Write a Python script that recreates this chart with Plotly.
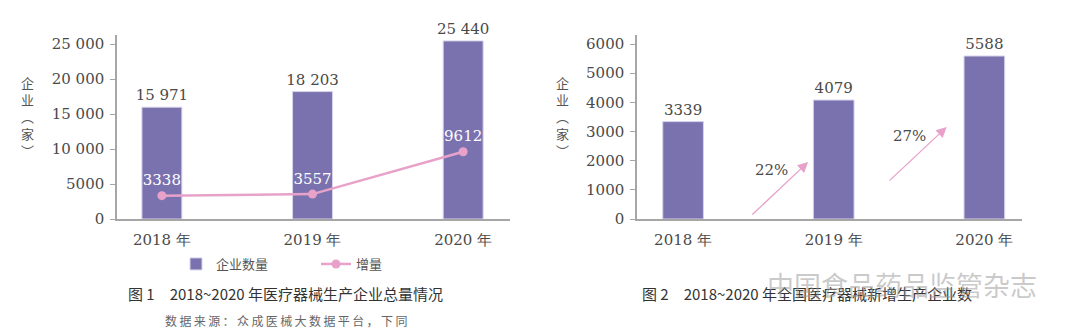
import plotly.graph_objects as go

# ---------------- data ----------------
years = ["2018 年", "2019 年", "2020 年"]
total_companies = [15971, 18203, 25440]
total_labels = ["15 971", "18 203", "25 440"]
increase = [3338, 3557, 9612]
new_companies = [3339, 4079, 5588]
growth_labels = ["22%", "27%"]

left_tickvals = [0, 5000, 10000, 15000, 20000, 25000]
left_ticktext = ["0", "5000", "10 000", "15 000", "20 000", "25 000"]
right_tickvals = [0, 1000, 2000, 3000, 4000, 5000, 6000]
right_ticktext = ["0", "1000", "2000", "3000", "4000", "5000", "6000"]

# ---------------- styles ----------------
BAR = "#7A72AF"
BAR_EDGE = "#D6D2EA"
PINK = "#E8A2CA"
AXIS = "#A6A6A6"
TXT = "#4A4A4A"
SERIF = "DejaVu Serif, Liberation Serif, serif"
CJK = "Noto Sans CJK SC, Noto Sans, sans-serif"

W, H = 1080, 336
def px_x(x):
    return x / W
def px_y(y):
    return 1 - y / H

fig = go.Figure()

fig.add_trace(go.Bar(
    x=years, y=total_companies, text=total_labels, textposition="outside",
    textfont=dict(family=SERIF, size=15, color=TXT), cliponaxis=False, constraintext="none",
    marker=dict(color=BAR, line=dict(color=BAR_EDGE, width=1)), width=0.265,
    name="企业数量", xaxis="x", yaxis="y",
))
fig.add_trace(go.Scatter(
    x=years, y=increase, mode="lines+markers+text", text=[str(v) for v in increase],
    textposition="top center", textfont=dict(family=SERIF, size=15, color="white"),
    line=dict(color=PINK, width=2.5), marker=dict(color=PINK, size=9),
    name="增量", xaxis="x", yaxis="y", cliponaxis=False,
))
fig.add_trace(go.Bar(
    x=years, y=new_companies, text=[str(v) for v in new_companies], textposition="outside",
    textfont=dict(family=SERIF, size=15, color=TXT), cliponaxis=False, constraintext="none",
    marker=dict(color=BAR, line=dict(color=BAR_EDGE, width=1)), width=0.27,
    showlegend=False, xaxis="x2", yaxis="y2",
))

ydom = [px_y(219), px_y(35)]
common_x = dict(showgrid=False, showline=True, linecolor=AXIS, linewidth=1.5,
                ticks="", ticklabelstandoff=6, automargin=False,
                tickfont=dict(family=SERIF, size=15, color=TXT), zeroline=False)
common_y = dict(showgrid=False, showline=True, linecolor=AXIS, linewidth=1.5,
                ticks="outside", ticklen=5, tickcolor=AXIS, tickwidth=1.2,
                ticklabelstandoff=3, automargin=False,
                tickfont=dict(family=SERIF, size=15, color=TXT), zeroline=False)

fig.update_layout(
    width=W, height=H, margin=dict(l=0, r=0, t=0, b=0, autoexpand=False),
    plot_bgcolor="white", paper_bgcolor="white",
    xaxis=dict(domain=[px_x(117), px_x(510)], range=[-0.298, 2.311], anchor="y", **common_x),
    yaxis=dict(domain=ydom, range=[0, 26286], anchor="x",
               tickvals=left_tickvals, ticktext=left_ticktext, **common_y),
    xaxis2=dict(domain=[px_x(637), px_x(1022)], range=[-0.306, 2.25], anchor="y2", **common_x),
    yaxis2=dict(domain=ydom, range=[0, 6309], anchor="x2",
                tickvals=right_tickvals, ticktext=right_ticktext, **common_y),
    showlegend=True,
    legend=dict(orientation="h", x=px_x(176), xanchor="left", y=px_y(264), yanchor="middle",
                font=dict(family=CJK, size=13, color="#555555"), itemwidth=30,
                entrywidth=95, entrywidthmode="pixels",
                bgcolor="rgba(0,0,0,0)"),
    bargap=0.7,
)

vtitle = "企<br>业<br>︵<br>家<br>︶"
def note(x, y, text, size, color, family=CJK, xanchor="center"):
    return dict(x=px_x(x), y=px_y(y), xref="paper", yref="paper", text=text,
                showarrow=False, xanchor=xanchor, yanchor="middle", align="center",
                font=dict(family=family, size=size, color=color))

ann = [
    note(27, 116, vtitle, 13, "#555555"),
    note(562, 116, vtitle, 13, "#555555"),
    note(285, 293, "图 1　2018~2020 年医疗器械生产企业总量情况", 15, "#333333"),
    note(286, 320, "\u2009".join("数据来源：众成医械大数据平台，下同"), 12, "#666666"),
    note(640, 293, "图 2　2018~2020 年全国医疗器械新增生产企业数", 15, "#333333", xanchor="left"),
    note(902, 284, "中国食品药品监管杂志", 27, "rgba(150,150,150,0.5)"),
    # growth arrows on right chart
    dict(x=0.83, y=1954, ax=0.45, ay=103, xref="x2", yref="y2", axref="x2", ayref="y2",
         text="", showarrow=True, arrowhead=2, arrowsize=1.6, arrowwidth=1.3, arrowcolor=PINK),
    dict(x=1.75, y=3154, ax=1.36, ay=1268, xref="x2", yref="y2", axref="x2", ayref="y2",
         text="", showarrow=True, arrowhead=2, arrowsize=1.6, arrowwidth=1.3, arrowcolor=PINK),
    dict(x=0.59, y=1680, xref="x2", yref="y2", text=growth_labels[0], showarrow=False,
         font=dict(family=SERIF, size=15, color=TXT)),
    dict(x=1.5, y=2845, xref="x2", yref="y2", text=growth_labels[1], showarrow=False,
         font=dict(family=SERIF, size=15, color=TXT)),
]
fig.update_layout(annotations=ann)

fig.write_html("out.html")
